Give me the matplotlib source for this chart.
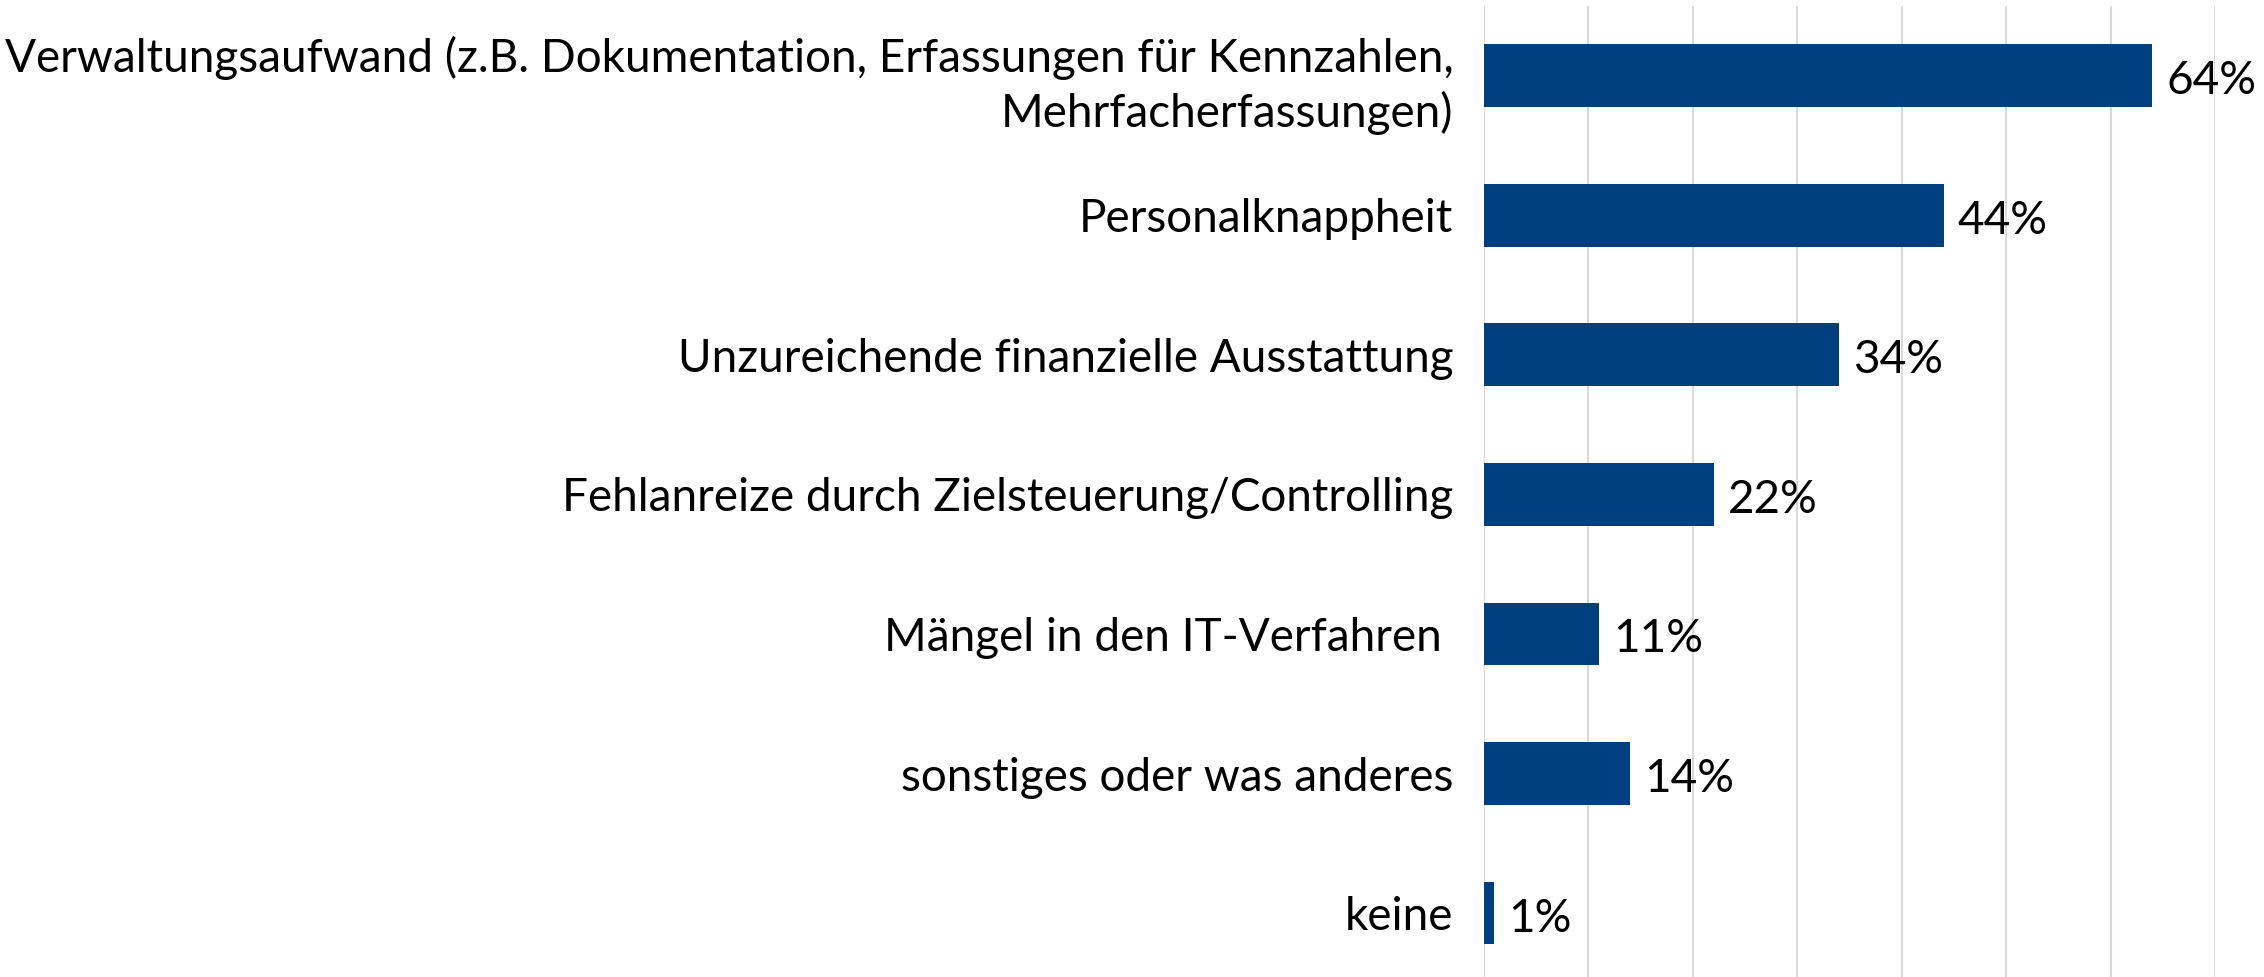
import matplotlib
matplotlib.use("Agg")
import matplotlib.pyplot as plt

categories = [
    "Verwaltungsaufwand (z.B. Dokumentation, Erfassungen für Kennzahlen,\nMehrfacherfassungen)",
    "Personalknappheit",
    "Unzureichende finanzielle Ausstattung",
    "Fehlanreize durch Zielsteuerung/Controlling",
    "Mängel in den IT-Verfahren ",
    "sonstiges oder was anderes",
    "keine",
]
values = [64, 44, 34, 22, 11, 14, 1]
value_labels = ["64%", "44%", "34%", "22%", "11%", "14%", "1%"]
x_ticks = [0, 10, 20, 30, 40, 50, 60, 70]

BAR_COLOR = "#003F7F"
FONT = "Lato"

fig = plt.figure(figsize=(22.64, 9.77), dpi=100)
ax = fig.add_axes([0.6555, -0.006, 0.3229, 1.0])

y = list(range(len(categories)))
ax.barh(y, values, height=0.45, color=BAR_COLOR, zorder=3)
ax.set_ylim(len(categories) - 0.5, -0.5)
ax.set_xlim(0, 70)
ax.set_xticks(x_ticks)
ax.xaxis.grid(True, color="#D9D9D9", linewidth=1.5, zorder=0)
ax.tick_params(axis="x", length=0, labelbottom=False)
ax.tick_params(axis="y", length=0, pad=22)
ax.set_yticks(y)
ax.set_yticklabels(categories, fontsize=33, fontfamily=FONT, ha="right",
                   multialignment="right", linespacing=1.3)
for s in ax.spines.values():
    s.set_visible(False)

# value labels sit a touch below the bar centre, like the original
for yi, v, lab in zip(y, values, value_labels):
    ax.annotate(lab, (v, yi), xytext=(10, -4), textcoords="offset points",
                va="center", ha="left", fontsize=33, fontfamily=FONT,
                color="#000000")

fig.savefig("out.png", dpi=100)
